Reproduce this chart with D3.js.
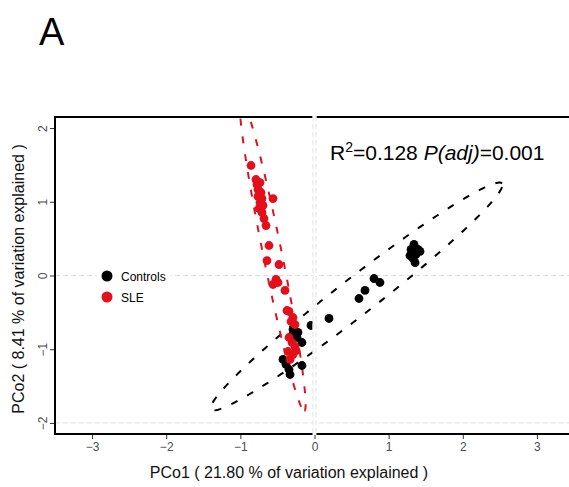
<!DOCTYPE html>
<html><head><meta charset="utf-8">
<script src="https://cdn.jsdelivr.net/npm/d3@7"></script>
<style>body{margin:0;background:#fff}svg{display:block}text{font-family:"Liberation Sans",Arial,sans-serif}</style>
</head><body>
<script>
// ---- data ----
const groups = ["Controls", "SLE"];
const groupColors = ["#000000", "#e3101b"];
const controlsX = [-0.290,-0.223,-0.236,-0.169,-0.303,-0.425,-0.384,-0.344,-0.330,-0.169,-0.047,0.196,0.600,0.681,0.803,0.883,1.342,1.302,1.396,1.288,1.369,1.423,1.329,1.356];
const controlsY = [-0.733,-0.773,-0.841,-0.909,-0.814,-1.139,-1.207,-1.275,-1.343,-1.221,-0.678,-0.583,-0.312,-0.203,-0.041,-0.095,0.421,0.353,0.353,0.271,0.285,0.326,0.231,0.176];
const sleX = [-0.856,-0.789,-0.776,-0.735,-0.762,-0.722,-0.762,-0.708,-0.735,-0.695,-0.749,-0.708,-0.681,-0.654,-0.560,-0.614,-0.641,-0.479,-0.519,-0.560,-0.492,-0.398,-0.344,-0.290,-0.317,-0.263,-0.344,-0.303,-0.263,-0.357,-0.290,-0.330,-0.371,-0.249];
const sleY = [1.492,1.302,1.234,1.261,1.167,1.126,1.072,1.044,0.990,0.950,0.909,0.855,0.773,0.678,1.044,0.407,0.203,0.149,-0.054,-0.122,-0.095,-0.203,-0.488,-0.570,-0.624,-0.665,-0.841,-0.909,-0.963,-1.031,-1.072,-1.139,-0.475,-1.020];
// 95% ellipses: center x, center y, semi-major, semi-minor, angle (deg, data space)
const ellipseCx = [0.567, -0.565];
const ellipseCy = [-0.285, 0.285];
const ellipseA = [2.490, 2.164];
const ellipseB = [0.250, 0.126];
const ellipseAngle = [38.0, -78.6];
const xTicks = [-3,-2,-1,0,1,2,3];
const yTicks = [-2,-1,0,1,2];
const hLines = [0, -2];
const vLines = [0];
const xLabel = "PCo1 ( 21.80 % of variation explained )";
const yLabel = "PCo2 ( 8.41 % of variation explained )";
const panelTitle = "A";

// ---- drawing ----
const W = 569, H = 487;
const P = {l:55, r:574, t:117, b:434};
const x = d3.scaleLinear().domain([-3.5, 3.5]).range([P.l, P.r]);
const y = d3.scaleLinear().domain([-2.15, 2.15]).range([P.b, P.t]);

const svg = d3.select("body").append("svg").attr("width", W).attr("height", H);
svg.append("defs").append("clipPath").attr("id","clip")
  .append("rect").attr("x",P.l).attr("y",P.t).attr("width",P.r-P.l).attr("height",P.b-P.t);

const g = svg.append("g");
// reference lines
g.selectAll(".hl").data(hLines).join("line")
  .attr("x1",P.l).attr("x2",P.r).attr("y1",d=>y(d)).attr("y2",d=>y(d))
  .attr("stroke","#dcdcdc").attr("stroke-width",1).attr("stroke-dasharray","5,3");

// ellipses
const lineGen = d3.line().x(d=>x(d[0])).y(d=>y(d[1]));
groups.forEach((grp,i)=>{
  const th = ellipseAngle[i]*Math.PI/180;
  const pts = d3.range(0, 361, 2).map(a=>{
    const t = a*Math.PI/180;
    const u = ellipseA[i]*Math.cos(t), v = ellipseB[i]*Math.sin(t);
    return [ellipseCx[i] + u*Math.cos(th) - v*Math.sin(th), ellipseCy[i] + u*Math.sin(th) + v*Math.cos(th)];
  });
  g.append("path").attr("d", lineGen(pts)).attr("clip-path","url(#clip)")
    .attr("fill","none").attr("stroke", groupColors[i]).attr("stroke-width",2)
    .attr("stroke-dasharray","7,11");
});

// points
const series = [
  {xs: controlsX, ys: controlsY, c: groupColors[0]},
  {xs: sleX, ys: sleY, c: groupColors[1]}
];
series.forEach(s=>{
  g.append("g").selectAll("circle").data(s.xs.map((v,k)=>[v, s.ys[k]])).join("circle")
    .attr("cx",d=>x(d[0])).attr("cy",d=>y(d[1])).attr("r",4.4).attr("fill",s.c);
});

// borders
svg.append("line").attr("x1",P.l-1).attr("x2",P.r).attr("y1",P.t).attr("y2",P.t).attr("stroke","#000").attr("stroke-width",2);
svg.append("line").attr("x1",P.l-1).attr("x2",P.r).attr("y1",P.b).attr("y2",P.b).attr("stroke","#000").attr("stroke-width",2);
svg.append("line").attr("x1",P.l).attr("x2",P.l).attr("y1",P.t).attr("y2",P.b).attr("stroke","#000").attr("stroke-width",2);

// vertical zero line (drawn over borders)
vLines.forEach(v=>{
  svg.append("line").attr("x1",x(v)).attr("x2",x(v)).attr("y1",P.t-2).attr("y2",P.b+2).attr("stroke","#fff").attr("stroke-width",4);
  [-1.5,1.5].forEach(o=>{
    svg.append("line").attr("x1",x(v)+o).attr("x2",x(v)+o).attr("y1",P.t-1).attr("y2",P.b+1)
      .attr("stroke","#e2e2e2").attr("stroke-width",1).attr("stroke-dasharray","5,3");
  });
});

// axes
const xAxis = d3.axisBottom(x).tickValues(xTicks).tickSize(4).tickPadding(3).tickFormat(d3.format("d"));
const gx = svg.append("g").attr("transform",`translate(0,${P.b+1})`).call(xAxis);
gx.select(".domain").remove();
gx.selectAll(".tick line").attr("stroke","#333");
gx.selectAll(".tick text").attr("font-size",12).attr("fill","#4d4d4d").attr("font-family","Liberation Sans, Arial, sans-serif");

const yAxis = d3.axisLeft(y).tickValues(yTicks).tickSize(4).tickPadding(3).tickFormat(d3.format("d"));
const gy = svg.append("g").attr("transform",`translate(${P.l-1},0)`).call(yAxis);
gy.select(".domain").remove();
gy.selectAll(".tick line").attr("stroke","#333");
gy.selectAll(".tick text").attr("font-size",12).attr("fill","#4d4d4d").attr("font-family","Liberation Sans, Arial, sans-serif")
  .attr("x",null).attr("dy",null).attr("text-anchor","middle")
  .attr("transform","translate(-7,0) rotate(-90)");

// axis labels
svg.append("text").attr("x",289).attr("y",478).attr("text-anchor","middle").attr("font-size",16).attr("fill","#111").text(xLabel);
svg.append("text").attr("transform","translate(24,279) rotate(-90)").attr("text-anchor","middle").attr("font-size",16).attr("fill","#111").text(yLabel);

// title
svg.append("text").attr("x",39).attr("y",45).attr("font-size",38).attr("fill","#000").text(panelTitle);

// annotation
const ann = svg.append("text").attr("x",330).attr("y",160).attr("font-size",21).attr("fill","#000");
ann.append("tspan").text("R");
ann.append("tspan").attr("font-size",14).attr("dy",-8).text("2");
ann.append("tspan").attr("dy",8).text("=0.128 ");
ann.append("tspan").attr("font-style","italic").text("P(adj)");
ann.append("tspan").text("=0.001");

// legend
const lg = svg.append("g");
lg.append("rect").attr("x",97).attr("y",264).attr("width",74).attr("height",44).attr("fill","#fff");
groups.forEach((grp,i)=>{
  const yy = 276 + i*21;
  lg.append("circle").attr("cx",107).attr("cy",yy).attr("r",5.5).attr("fill",groupColors[i]);
  lg.append("text").attr("x",121).attr("y",yy+4.5).attr("font-size",12).attr("fill","#000").text(grp);
});
</script>
</body></html>
